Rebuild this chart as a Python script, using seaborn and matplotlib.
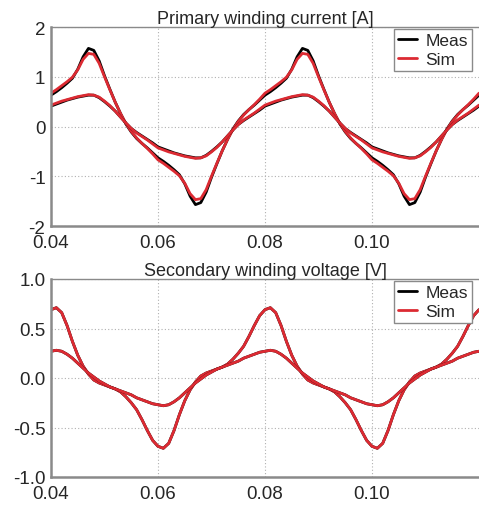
import numpy as np
import pandas as pd
import seaborn as sns
import matplotlib.pyplot as plt

# time axis (s), one sample per ms
t = np.round(np.arange(0.040, 0.1205, 0.001), 3)

# primary winding current [A] - high and low excitation
i_meas_hi = [0.63, 0.70, 0.78, 0.87, 0.97, 1.15, 1.40, 1.57, 1.53, 1.32,
             1.02, 0.75, 0.49, 0.26, 0.05, -0.11, -0.24, -0.34, -0.43, -0.53,
             -0.63, -0.70, -0.78, -0.87, -0.97, -1.15, -1.40, -1.57, -1.53, -1.32,
             -1.02, -0.75, -0.49, -0.26, -0.05, 0.11, 0.24, 0.34, 0.43, 0.53,
             0.63, 0.70, 0.78, 0.87, 0.97, 1.15, 1.40, 1.57, 1.53, 1.32,
             1.02, 0.75, 0.49, 0.26, 0.05, -0.11, -0.24, -0.34, -0.43, -0.53,
             -0.63, -0.70, -0.78, -0.87, -0.97, -1.15, -1.40, -1.57, -1.53, -1.32,
             -1.02, -0.75, -0.49, -0.26, -0.05, 0.11, 0.24, 0.34, 0.43, 0.53,
             0.63]
i_sim_hi = [0.67, 0.74, 0.82, 0.90, 0.99, 1.14, 1.35, 1.47, 1.45, 1.27,
            1.00, 0.74, 0.49, 0.26, 0.06, -0.10, -0.23, -0.34, -0.44, -0.55,
            -0.67, -0.74, -0.82, -0.90, -0.99, -1.14, -1.35, -1.47, -1.45, -1.27,
            -1.00, -0.74, -0.49, -0.26, -0.06, 0.10, 0.23, 0.34, 0.44, 0.55,
            0.67, 0.74, 0.82, 0.90, 0.99, 1.14, 1.35, 1.47, 1.45, 1.27,
            1.00, 0.74, 0.49, 0.26, 0.06, -0.10, -0.23, -0.34, -0.44, -0.55,
            -0.67, -0.74, -0.82, -0.90, -0.99, -1.14, -1.35, -1.47, -1.45, -1.27,
            -1.00, -0.74, -0.49, -0.26, -0.06, 0.10, 0.23, 0.34, 0.44, 0.55,
            0.67]
i_meas_lo = [0.41, 0.45, 0.49, 0.53, 0.56, 0.59, 0.61, 0.63, 0.63, 0.58,
             0.50, 0.41, 0.31, 0.19, 0.07, -0.04, -0.12, -0.19, -0.26, -0.33,
             -0.41, -0.45, -0.49, -0.53, -0.56, -0.59, -0.61, -0.63, -0.63, -0.58,
             -0.50, -0.41, -0.31, -0.19, -0.07, 0.04, 0.12, 0.19, 0.26, 0.33,
             0.41, 0.45, 0.49, 0.53, 0.56, 0.59, 0.61, 0.63, 0.63, 0.58,
             0.50, 0.41, 0.31, 0.19, 0.07, -0.04, -0.12, -0.19, -0.26, -0.33,
             -0.41, -0.45, -0.49, -0.53, -0.56, -0.59, -0.61, -0.63, -0.63, -0.58,
             -0.50, -0.41, -0.31, -0.19, -0.07, 0.04, 0.12, 0.19, 0.26, 0.33,
             0.41]
i_sim_lo = [0.43, 0.47, 0.51, 0.54, 0.57, 0.60, 0.62, 0.64, 0.63, 0.59,
            0.51, 0.42, 0.31, 0.19, 0.07, -0.04, -0.13, -0.20, -0.27, -0.35,
            -0.43, -0.47, -0.51, -0.54, -0.57, -0.60, -0.62, -0.64, -0.63, -0.59,
            -0.51, -0.42, -0.31, -0.19, -0.07, 0.04, 0.13, 0.20, 0.27, 0.35,
            0.43, 0.47, 0.51, 0.54, 0.57, 0.60, 0.62, 0.64, 0.63, 0.59,
            0.51, 0.42, 0.31, 0.19, 0.07, -0.04, -0.13, -0.20, -0.27, -0.35,
            -0.43, -0.47, -0.51, -0.54, -0.57, -0.60, -0.62, -0.64, -0.63, -0.59,
            -0.51, -0.42, -0.31, -0.19, -0.07, 0.04, 0.13, 0.20, 0.27, 0.35,
            0.43]

# secondary winding voltage [V]
v_meas_hi = [0.69, 0.71, 0.66, 0.53, 0.37, 0.23, 0.12, 0.04, -0.02, -0.05,
             -0.07, -0.09, -0.11, -0.14, -0.19, -0.25, -0.32, -0.42, -0.53, -0.63,
             -0.69, -0.71, -0.66, -0.53, -0.37, -0.23, -0.12, -0.04, 0.02, 0.05,
             0.07, 0.09, 0.11, 0.14, 0.19, 0.25, 0.32, 0.42, 0.53, 0.63,
             0.69, 0.71, 0.66, 0.53, 0.37, 0.23, 0.12, 0.04, -0.02, -0.05,
             -0.07, -0.09, -0.11, -0.14, -0.19, -0.25, -0.32, -0.42, -0.53, -0.63,
             -0.69, -0.71, -0.66, -0.53, -0.37, -0.23, -0.12, -0.04, 0.02, 0.05,
             0.07, 0.09, 0.11, 0.14, 0.19, 0.25, 0.32, 0.42, 0.53, 0.63,
             0.69]
v_sim_hi = [0.69, 0.71, 0.66, 0.53, 0.37, 0.23, 0.12, 0.04, -0.02, -0.05,
            -0.07, -0.09, -0.11, -0.14, -0.19, -0.25, -0.32, -0.42, -0.53, -0.63,
            -0.69, -0.71, -0.66, -0.53, -0.37, -0.23, -0.12, -0.04, 0.02, 0.05,
            0.07, 0.09, 0.11, 0.14, 0.19, 0.25, 0.32, 0.42, 0.53, 0.63,
            0.69, 0.71, 0.66, 0.53, 0.37, 0.23, 0.12, 0.04, -0.02, -0.05,
            -0.07, -0.09, -0.11, -0.14, -0.19, -0.25, -0.32, -0.42, -0.53, -0.63,
            -0.69, -0.71, -0.66, -0.53, -0.37, -0.23, -0.12, -0.04, 0.02, 0.05,
            0.07, 0.09, 0.11, 0.14, 0.19, 0.25, 0.32, 0.42, 0.53, 0.63,
            0.69]
v_meas_lo = [0.27, 0.28, 0.27, 0.24, 0.20, 0.15, 0.10, 0.05, 0.01, -0.03,
             -0.06, -0.09, -0.11, -0.13, -0.15, -0.17, -0.20, -0.22, -0.24, -0.26,
             -0.27, -0.28, -0.27, -0.24, -0.20, -0.15, -0.10, -0.05, -0.01, 0.03,
             0.06, 0.09, 0.11, 0.13, 0.15, 0.17, 0.20, 0.22, 0.24, 0.26,
             0.27, 0.28, 0.27, 0.24, 0.20, 0.15, 0.10, 0.05, 0.01, -0.03,
             -0.06, -0.09, -0.11, -0.13, -0.15, -0.17, -0.20, -0.22, -0.24, -0.26,
             -0.27, -0.28, -0.27, -0.24, -0.20, -0.15, -0.10, -0.05, -0.01, 0.03,
             0.06, 0.09, 0.11, 0.13, 0.15, 0.17, 0.20, 0.22, 0.24, 0.26,
             0.27]
v_sim_lo = [0.27, 0.28, 0.27, 0.24, 0.20, 0.15, 0.10, 0.05, 0.01, -0.03,
            -0.06, -0.09, -0.11, -0.13, -0.15, -0.17, -0.20, -0.22, -0.24, -0.26,
            -0.27, -0.28, -0.27, -0.24, -0.20, -0.15, -0.10, -0.05, -0.01, 0.03,
            0.06, 0.09, 0.11, 0.13, 0.15, 0.17, 0.20, 0.22, 0.24, 0.26,
            0.27, 0.28, 0.27, 0.24, 0.20, 0.15, 0.10, 0.05, 0.01, -0.03,
            -0.06, -0.09, -0.11, -0.13, -0.15, -0.17, -0.20, -0.22, -0.24, -0.26,
            -0.27, -0.28, -0.27, -0.24, -0.20, -0.15, -0.10, -0.05, -0.01, 0.03,
            0.06, 0.09, 0.11, 0.13, 0.15, 0.17, 0.20, 0.22, 0.24, 0.26,
            0.27]

xticks = [0.04, 0.06, 0.08, 0.10]
xticklabels = ["0.04", "0.06", "0.08", "0.10"]

sns.set_style("white")
plt.rcParams['font.family'] = ['Liberation Sans', 'DejaVu Sans']
plt.rcParams['axes.unicode_minus'] = False

RED = '#dc2a32'
GRAY = '#8a8a8a'

fig = plt.figure(figsize=(4.79, 5.06), dpi=100)
ax1 = fig.add_axes([51/479, 1 - 227/506, 428/479, 199/506])
ax2 = fig.add_axes([51/479, 1 - 478/506, 428/479, 198/506])


def draw(ax, meas, sim, title, ylim, yticks, yticklabels):
    for k, (m, s) in enumerate(zip(meas, sim)):
        sns.lineplot(x=t, y=m, color='black', lw=2.0, ax=ax,
                     label='Meas' if k == 0 else None, sort=False, estimator=None)
        sns.lineplot(x=t, y=s, color=RED, lw=2.0, ax=ax,
                     label='Sim' if k == 0 else None, sort=False, estimator=None)
    ax.set_xlim(0.04, 0.12)
    ax.set_ylim(*ylim)
    ax.set_xticks(xticks)
    ax.set_xticklabels(xticklabels)
    ax.set_yticks(yticks)
    ax.set_yticklabels(yticklabels)
    ax.grid(True, ls=(0, (1, 2)), color='#b0b0b0', lw=0.8)
    ax.tick_params(labelsize=13.5, length=3, width=1, color=GRAY, pad=1)
    ax.tick_params(axis='x', pad=3)
    for side in ['left', 'bottom']:
        ax.spines[side].set_color(GRAY)
        ax.spines[side].set_linewidth(1.8)
    ax.spines['top'].set_color(GRAY)
    ax.spines['top'].set_linewidth(1.0)
    ax.spines['right'].set_visible(False)
    ax.set_title(title, fontsize=13, pad=3)
    ax.set_xlabel('')
    ax.set_ylabel('')
    leg = ax.legend(loc='upper right', bbox_to_anchor=(0.988, 1.0), fontsize=12.5,
                    fancybox=False, framealpha=1, edgecolor=GRAY,
                    handlelength=1.1, handletextpad=0.45,
                    borderpad=0.25, borderaxespad=0.1, labelspacing=0.2)
    leg.get_frame().set_linewidth(1.0)


draw(ax1, [i_meas_hi, i_meas_lo], [i_sim_hi, i_sim_lo],
     'Primary winding current [A]', (-2, 2),
     [-2, -1, 0, 1, 2], ['-2', '-1', '0', '1', '2'])
draw(ax2, [v_meas_hi, v_meas_lo], [v_sim_hi, v_sim_lo],
     'Secondary winding voltage [V]', (-1, 1),
     [-1.0, -0.5, 0.0, 0.5, 1.0], ['-1.0', '-0.5', '0.0', '0.5', '1.0'])

fig.savefig('out.png', dpi=100)
